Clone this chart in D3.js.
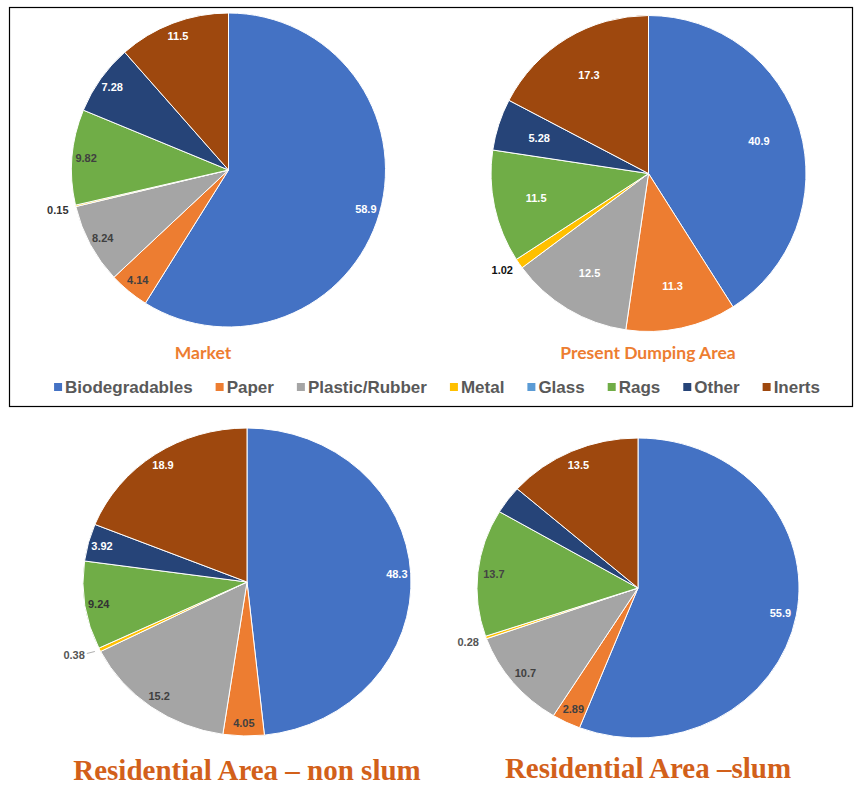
<!DOCTYPE html>
<html><head><meta charset="utf-8">
<script src="https://cdn.jsdelivr.net/npm/d3@7"></script>
<style>body{margin:0;background:#fff}svg{display:block}</style>
</head><body><svg id="c" width="854" height="786"></svg>
<script>
const categories = ["Biodegradables","Paper","Plastic/Rubber","Metal","Glass","Rags","Other","Inerts"];
const colors = ["#4472C4","#ED7D31","#A5A5A5","#FFC000","#5B9BD5","#70AD47","#264478","#9E480E"];
const marketValues   = [58.9, 4.14, 8.24, 0.15, 0, 9.82, 7.28, 11.5];
const dumpingValues  = [40.9, 11.3, 12.5, 1.02, 0, 11.5, 5.28, 17.3];
const nonSlumValues  = [48.3, 4.05, 15.2, 0.38, 0, 9.24, 3.92, 18.9];
const slumValues     = [55.9, 2.89, 10.7, 0.28, 0, 13.7, 3.0, 13.5];
const titles = ["Market","Present Dumping Area","Residential Area \u2013 non slum","Residential Area \u2013slum"];

const W="#ffffff", D="#404040";
const charts = [
  {title:titles[0], values:marketValues, cx:228.5, cy:170, rx:157, ry:157, frac:0.91,
   lc:[W,D,D,"#333",D,D,W,W], hide:[], tStyle:"top", tx:203, ty:359},
  {title:titles[1], values:dumpingValues, cx:648.5, cy:173.5, rx:157.5, ry:158, frac:0.73,
   lc:[W,W,W,"#111",W,W,W,W], hide:[], tStyle:"top", tx:648, ty:359},
  {title:titles[2], values:nonSlumValues, cx:247, cy:582, rx:164, ry:154, frac:0.915,
   lc:[W,D,D,"#555",D,"#333",W,W], hide:[], tStyle:"bottom", tx:247, ty:780, leader:true},
  {title:titles[3], values:slumValues, cx:638, cy:588, rx:161, ry:150, frac:0.9,
   lc:[W,D,D,"#555",D,"#444",W,W], hide:[6], tStyle:"bottom", tx:648, ty:778}
];

const svg = d3.select("#c");
svg.append("rect").attr("x",9.5).attr("y",7.5).attr("width",843).attr("height",399)
  .attr("fill","none").attr("stroke","#000").attr("stroke-width",1.2);

const pie = d3.pie().sort(null).value(d=>d);

charts.forEach(ch=>{
  const arcs = pie(ch.values);
  const arc = d3.arc().innerRadius(0).outerRadius(ch.ry);
  const g = svg.append("g").attr("transform",`translate(${ch.cx},${ch.cy}) scale(${ch.rx/ch.ry},1)`);
  g.selectAll("path").data(arcs.filter(a=>a.value>0)).join("path")
    .attr("d",arc).attr("fill",a=>colors[a.index])
    .attr("stroke","#fff").attr("stroke-width",1).attr("vector-effect","non-scaling-stroke");

  arcs.forEach(a=>{
    if(a.value<=0 || ch.hide.includes(a.index)) return;
    const m=(a.startAngle+a.endAngle)/2;
    const small = a.value<2;
    const f = small?1.04:ch.frac;
    let x = ch.cx + ch.rx*f*Math.sin(m);
    let y = ch.cy - ch.ry*f*Math.cos(m);
    const t = svg.append("text").text(a.value)
      .attr("font-family","'Liberation Sans',Arial,sans-serif").attr("font-weight","bold")
      .attr("font-size",11).attr("fill",ch.lc[a.index]).attr("dominant-baseline","central");
    if(small){
      if(ch.leader){
        svg.append("line").attr("x1",x-7).attr("y1",y+1).attr("x2",x+1).attr("y2",y-1)
          .attr("stroke","#999").attr("stroke-width",0.8);
        x-=8;
      }
      t.attr("x",x-1).attr("y",y+3).attr("text-anchor","end");
    } else {
      t.attr("x",x).attr("y",y).attr("text-anchor","middle");
    }
  });

  if(ch.tStyle==="top"){
    svg.append("text").attr("x",ch.tx).attr("y",ch.ty).attr("text-anchor","middle")
      .attr("font-family","Lato,'Open Sans',sans-serif").attr("font-weight","bold")
      .attr("font-size",17.5).attr("fill","#ED7D31").text(ch.title);
  } else {
    svg.append("text").attr("x",ch.tx).attr("y",ch.ty).attr("text-anchor","middle")
      .attr("font-family","'Liberation Serif','Times New Roman',serif").attr("font-weight","bold")
      .attr("font-size",29).attr("fill","#D2601A").text(ch.title);
  }
});

// legend
const lg = svg.append("g");
let lx = 0;
const items = [];
categories.forEach((c,i)=>{
  const it = lg.append("g");
  it.append("rect").attr("x",0).attr("y",-4).attr("width",8).attr("height",8).attr("fill",colors[i]);
  const tx = it.append("text").attr("x",11).attr("y",0).attr("dominant-baseline","central")
    .attr("font-family","'Liberation Sans',Arial,sans-serif").attr("font-weight","bold")
    .attr("font-size",17).attr("fill","#595959").text(c);
  items.push({it, w: 11+tx.node().getComputedTextLength()});
});
const gap = 23;
const total = items.reduce((s,d)=>s+d.w,0)+gap*(items.length-1);
lx = 437 - total/2;
items.forEach(d=>{ d.it.attr("transform",`translate(${lx},387)`); lx += d.w+gap; });
</script></body></html>
